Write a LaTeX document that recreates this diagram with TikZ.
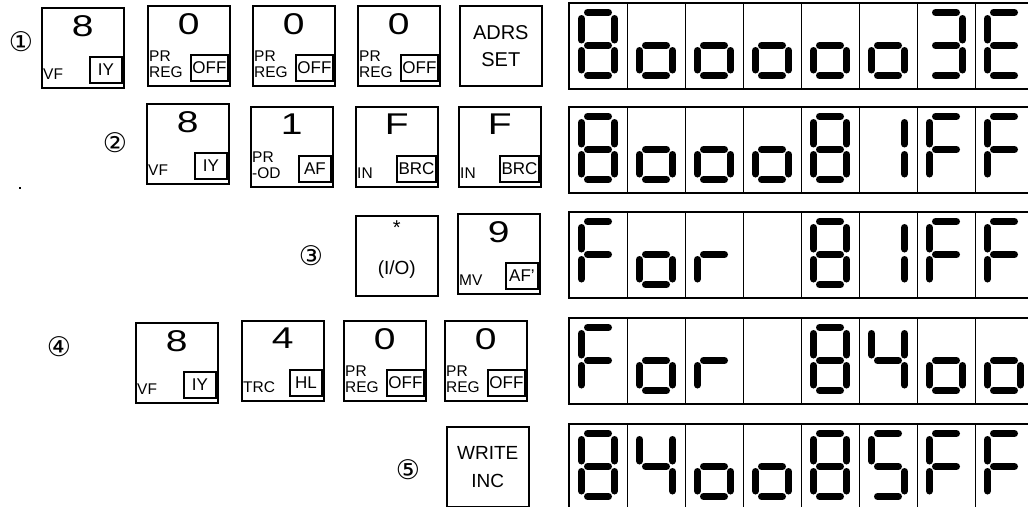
\documentclass[tikz,border=0pt]{standalone}
\usepackage{fontspec}
\setmainfont{Liberation Sans}
\newfontfamily\circfont{DejaVu Sans}
\usetikzlibrary{positioning}

% seven segment pieces (cell coordinates, y down)
\tikzset{
    seg a/.pic={\draw[segline] (18.5,9.5) -- (39.5,9.5);},
    seg b/.pic={\draw[segline] (45.5,15.5) -- (45.5,37);},
    seg c/.pic={\draw[segline] (45.5,47.5) -- (45.5,67);},
    seg d/.pic={\draw[segline] (18.5,72.5) -- (39.5,72.5);},
    seg e/.pic={\draw[segline] (12.5,47.5) -- (12.5,67);},
    seg f/.pic={\draw[segline] (12.5,15.5) -- (12.5,37);},
    seg g/.pic={\draw[segline] (18.5,42.5) -- (39.5,42.5);},
    seg n/.pic={}
}
\pgfkeys{
    /glyph/8/.initial={a,b,c,d,e,f,g},
    /glyph/o/.initial={c,d,e,g},
    /glyph/3/.initial={a,b,c,d,g},
    /glyph/E/.initial={a,d,e,f,g},
    /glyph/1/.initial={b,c},
    /glyph/F/.initial={a,e,f,g},
    /glyph/r/.initial={e,g},
    /glyph/4/.initial={b,c,f,g},
    /glyph/5/.initial={a,c,d,f,g},
    /glyph/x/.initial={n}
}

\begin{document}
\begin{tikzpicture}[
    x=1pt, y=-1pt,
    key/.style={
        draw,
        line width=1.6pt,
        minimum width=82pt,
        minimum height=80pt,
        inner sep=0pt,
        anchor=north west
    },
    keydigit/.style={inner sep=0pt, font=\fontsize{30}{30}\selectfont},
    keyside/.style={inner sep=0pt, align=left, font=\fontsize{15.5}{15.5}\selectfont},
    keytag/.style={
        draw,
        line width=1.3pt,
        minimum width=32pt,
        minimum height=26pt,
        inner xsep=1.5pt,
        inner ysep=2pt,
        font=\fontsize{17}{17}\selectfont
    },
    keyword/.style={inner sep=0pt, align=center, font=\fontsize{20}{27}\selectfont},
    stepmark/.style={inner sep=0pt, font=\circfont\fontsize{27}{27}\selectfont},
    cell/.style={
        draw,
        line width=1.3pt,
        minimum width=58pt,
        minimum height=85pt,
        inner sep=0pt,
        anchor=north west
    },
    segline/.style={line width=7pt, line cap=round}
]
\useasboundingbox (0,0) rectangle (1028,506);

% =========================================================
% Step marks
% =========================================================
\node[stepmark] (s1) at (21,42) {①};
\node[stepmark] (s2) at (115,143) {②};
\node[stepmark] (s3) at (311,256) {③};
\node[stepmark] (s4) at (59,347) {④};
\node[stepmark] (s5) at (408,470) {⑤};
\fill (19,187) rectangle (21,189);

% =========================================================
% Keys
% =========================================================
\foreach \nm/\x/\y/\big/\side/\tag in {
    k11/41/7/8/VF/IY, k12/147/5/0/{PR\\REG}/OFF, k13/252/5/0/{PR\\REG}/OFF, k14/357/5/0/{PR\\REG}/OFF,
    k21/146/103/8/VF/IY, k22/250/106/1/{PR\\-OD}/AF, k23/355/106/F/IN/BRC, k24/458/106/F/IN/BRC,
    k32/457/213/9/MV/{AF'},
    k41/135/322/8/VF/IY, k42/241/320/4/TRC/HL, k43/343/320/0/{PR\\REG}/OFF, k44/444/320/0/{PR\\REG}/OFF} {
    \node[key] (\nm) at (\x,\y) {};
    \node[keydigit, below=8pt of \nm.north] {\scalebox{1.3}[1]{\big}};
    \node[keyside, above right=9pt and 2pt of \nm.south west] {\side};
    \node[keytag, above left=5pt and 2pt of \nm.south east] {\tag};
}

% Keys with words only
\node[key] (k15) at (459,5) {};
\node[keyword] at (k15.center) {ADRS\\SET};

\node[key] (k31) at (355,215) {};
\node[keyword, below=6pt of k31.north] {*};
\node[keyword, font=\fontsize{19}{19}\selectfont, above=18pt of k31.south] {(I/O)};

\node[key] (k51) at (446,426) {};
\node[keyword, font=\fontsize{19}{28}\selectfont] at (k51.center) {WRITE\\INC};

% =========================================================
% Displays
% =========================================================
\foreach \r/\ytop/\glyphs in {
    1/3/{8,o,o,o,o,o,3,E},
    2/107/{8,o,o,o,8,1,F,F},
    3/212/{F,o,r,x,8,1,F,F},
    4/318/{F,o,r,x,8,4,o,o},
    5/424/{8,4,o,o,8,5,F,F}} {
    \foreach \g [count=\c] in \glyphs {
        \node[cell] (d\r\c) at ({569+58*(\c-1)},\ytop) {};
        \pgfkeysgetvalue{/glyph/\g}{\seglist}
        \foreach \s in \seglist {\pic at (d\r\c.north west) {seg \s};}
    }
    \draw[line width=2pt] (d\r1.north west) rectangle (d\r8.south east);
}

\end{tikzpicture}
\end{document}
